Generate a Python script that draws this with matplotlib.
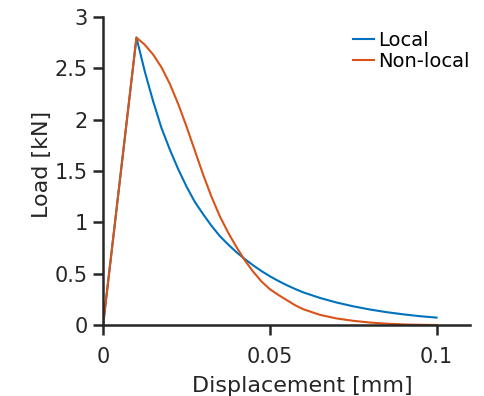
import matplotlib
matplotlib.use('Agg')
import matplotlib.pyplot as plt

# values
disp = [0, 0.01, 0.0125, 0.015, 0.0175, 0.02, 0.0225, 0.025, 0.0275, 0.03,
        0.0325, 0.035, 0.0375, 0.04, 0.0425, 0.045, 0.0475, 0.05, 0.0525, 0.055,
        0.0575, 0.06, 0.065, 0.07, 0.075, 0.08, 0.085, 0.09, 0.095, 0.1]
local = [0, 2.8, 2.47, 2.18, 1.92, 1.71, 1.52, 1.35, 1.20, 1.08,
         0.967, 0.867, 0.785, 0.71, 0.643, 0.582, 0.526, 0.476, 0.431, 0.39,
         0.353, 0.319, 0.265, 0.22, 0.183, 0.152, 0.126, 0.105, 0.087, 0.073]
nonlocal_ = [0, 2.8, 2.73, 2.635, 2.51, 2.35, 2.155, 1.935, 1.70, 1.465,
             1.25, 1.06, 0.90, 0.76, 0.63, 0.52, 0.425, 0.35, 0.295, 0.245,
             0.195, 0.155, 0.10, 0.065, 0.042, 0.025, 0.014, 0.007, 0.003, 0.001]
xticks = [0, 0.05, 0.1]
xticklabels = ['0', '0.05', '0.1']
yticks = [0, 0.5, 1, 1.5, 2, 2.5, 3]
yticklabels = ['0', '0.5', '1', '1.5', '2', '2.5', '3']

plt.rcParams['font.family'] = 'DejaVu Sans'
fig = plt.figure(figsize=(4.84, 3.96), dpi=100)
ax = fig.add_axes([0.213, 0.179, 0.758, 0.778])

ax.plot(disp, local, color='#0072BD', lw=1.5, label='Local')
ax.plot(disp, nonlocal_, color='#D95319', lw=1.5, label='Non-local')

ax.set_xlim(0, 0.11)
ax.set_ylim(0, 3)
ax.set_xticks(xticks)
ax.set_xticklabels(xticklabels)
ax.set_yticks(yticks)
ax.set_yticklabels(yticklabels)

for s in ('top', 'right'):
	ax.spines[s].set_visible(False)
for s in ('left', 'bottom'):
	ax.spines[s].set_linewidth(1.8)
	ax.spines[s].set_color('#262626')
ax.tick_params(direction='out', length=7, width=1.8, color='#262626',
	labelsize=15, labelcolor='#262626')
ax.tick_params(axis='x', pad=9)
ax.tick_params(axis='y', pad=4)

ax.set_xlabel('Displacement [mm]', fontsize=16, color='#262626')
ax.xaxis.set_label_coords(0.542, -0.165)
ax.set_ylabel('Load [kN]', fontsize=16, color='#262626')
ax.yaxis.set_label_coords(-0.14, 0.52)

ax.legend(loc='upper right', frameon=False, fontsize=14, handlelength=1.05,
	handletextpad=0.2, labelspacing=0.1, borderaxespad=0.3,
	bbox_to_anchor=(1.035, 1.0))

plt.savefig('out.png', dpi=100)
